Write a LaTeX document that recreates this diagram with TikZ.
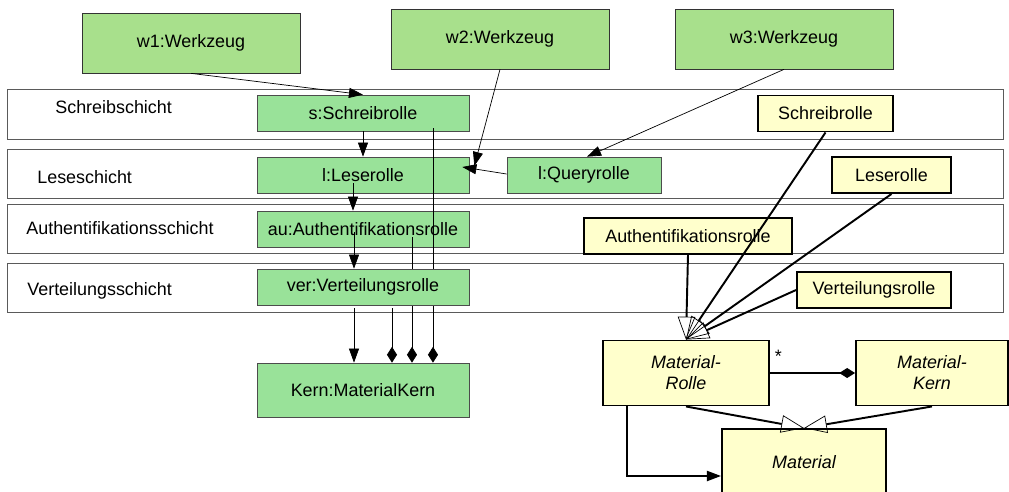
\documentclass[tikz,border=0pt]{standalone}
\usepackage{fontspec}
\setmainfont{Liberation Sans}
\usetikzlibrary{arrows.meta}
\definecolor{toolgreen}{RGB}{168,224,140}
\definecolor{rolegreen}{RGB}{153,226,153}
\definecolor{classyellow}{RGB}{255,255,204}
\definecolor{layergray}{RGB}{90,90,90}

\begin{document}
\begin{tikzpicture}[x=0.02cm,y=-0.02cm,
  font=\fontsize{10.2}{12}\selectfont,
  tool/.style={draw=black!80,fill=toolgreen,minimum width=4.36cm,minimum height=1.2cm,inner sep=0pt},
  role/.style={draw=black!70,fill=rolegreen,minimum width=4.24cm,minimum height=0.72cm,inner sep=0pt},
  layer/.style={draw=layergray,minimum width=19.92cm,minimum height=0.98cm,inner sep=0pt},
  layerlabel/.style={anchor=west,inner sep=0pt},
  cls/.style={draw=black,line width=1.1pt,fill=classyellow,minimum height=0.72cm,inner sep=0pt,align=center},
  arr/.style={-{Triangle[length=8pt,width=5.7pt]}},
  comp/.style={-{Diamond[length=9pt,width=5.7pt]}},
  gen/.style={line width=1.1pt,-{Triangle[open,length=13pt,width=10pt,line width=0.4pt]}}
]
\useasboundingbox (0,0) rectangle (1009,491);
% First the four layers as wide white bands, each with its name on the left
\node[layer,minimum height=1cm] (schreib) at (505,114) {};
\node[layer] (lese) at (505,173.5) {};
\node[layer] (auth) at (505,228.5) {};
\node[layer] (verteil) at (505,287.5) {};
\node[layerlabel] (schreibL) at (55,107) {Schreibschicht};
\node[layerlabel] (leseL) at (37,177) {Leseschicht};
\node[layerlabel] (authL) at (26,228) {Authentifikationsschicht};
\node[layerlabel] (verteilL) at (27,291) {Verteilungsschicht};
% The tools on top
\node[tool] (w1) at (191,43) {w1:Werkzeug};
\node[tool] (w2) at (500,39) {w2:Werkzeug};
\node[tool] (w3) at (784,39) {w3:Werkzeug};
% The role objects, one per layer
\node[role] (s) at (363,113) {s:Schreibrolle};
\node[role] (l) at (363,175) {l:Leserolle};
\node[role] (au) at (363,229) {au:Authentifikationsrolle};
\node[role,minimum width=3.08cm] (q) at (584,175) {l:Queryrolle};
\node[role,minimum height=1.08cm] (kern) at (363,390) {Kern:MaterialKern};
% The composition lines run behind the distribution role, so draw them before it
\draw[comp] ([xshift=1.4cm,yshift=0.06cm]s.south) -- ([xshift=1.4cm]kern.north);
\draw[comp] ([xshift=0.98cm,yshift=0.2cm]au.south) -- ([xshift=0.98cm]kern.north);
\node[role] (ver) at (363,287) {ver:Verteilungsrolle};
\draw[comp] ([xshift=0.58cm,yshift=-0.06cm]ver.south) -- ([xshift=0.58cm]kern.north);
% Now the calls between the objects
\draw[arr] (w1.south) -- (s.north);
\draw[arr] (s.south) -- (l.north);
\draw[arr] ([xshift=-0.2cm,yshift=0.2cm]l.south) -- ([xshift=-0.2cm]au.north);
\draw[arr] ([xshift=-0.18cm,yshift=0.3cm]au.south) -- ([xshift=-0.18cm]ver.north);
\draw[arr] ([xshift=-0.18cm,yshift=-0.06cm]ver.south) -- ([xshift=-0.18cm]kern.north);
\draw[arr] (w2.south) -- ([xshift=0.1cm,yshift=0.18cm]l.east);
\draw[arr] ([yshift=0.02cm]q.west) -- ([xshift=-0.14cm,yshift=0.16cm]l.east);
\draw[arr] (w3.south) -- ([xshift=0.06cm]q.north);
% The class diagram on the right
\node[cls,minimum width=2.7cm] (SR) at (825.5,113.5) {Schreibrolle};
\node[cls,minimum width=2.38cm] (LR) at (891.5,175) {Leserolle};
\node[cls,minimum width=4.16cm] (AR) at (688,236) {Authentifikationsrolle};
\node[cls,minimum width=3.08cm] (VR) at (874,290) {Verteilungsrolle};
\node[cls,minimum width=3.32cm,minimum height=1.3cm,font=\fontsize{10.2}{12}\selectfont\itshape] (MR) at (686,373) {Material-\\Rolle};
\node[cls,minimum width=3.04cm,minimum height=1.3cm,font=\fontsize{10.2}{12}\selectfont\itshape] (MK) at (932,373) {Material-\\Kern};
\node[cls,minimum width=3.28cm,minimum height=1.32cm,font=\fontsize{10.2}{12}\selectfont\itshape] (M) at (804,462) {Material};
% Generalisations meet in one point
\draw[gen] (AR.south) -- (MR.north);
\draw[gen] (SR.south) -- (MR.north);
\draw[gen] (LR.south) -- (MR.north);
\draw[gen] (VR.west) -- (MR.north);
\draw[gen] (MR.south) -- (M.north);
\draw[gen] (MK.south) -- (M.north);
\draw[line width=1.1pt,-{Diamond[length=9pt,width=5.7pt]}] (MR.east) -- node[pos=0.1,above=2pt] (star) {*} (MK.west);
\draw[line width=1.1pt,-{Triangle[length=8pt,width=5.7pt]}] ([xshift=-1.18cm]MR.south) |- ([yshift=-0.28cm]M.west);
\end{tikzpicture}
\end{document}
